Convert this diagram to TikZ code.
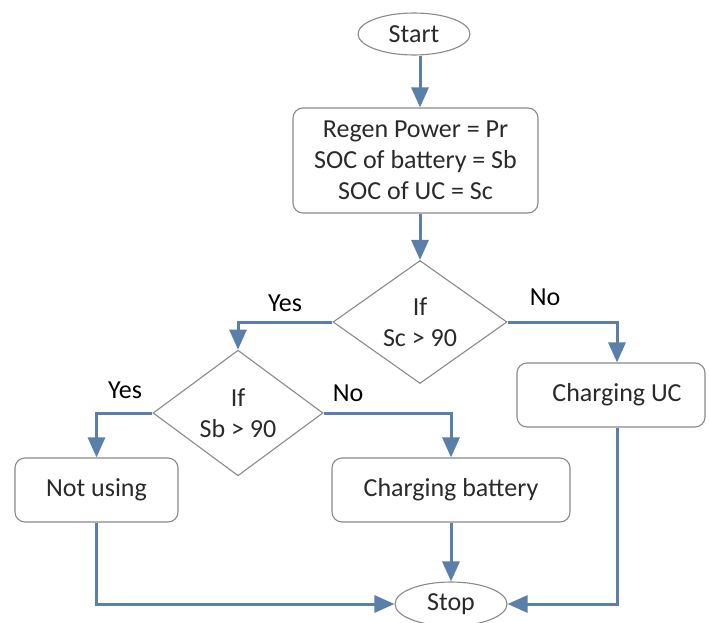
\documentclass[tikz,border=0pt]{standalone}
\usepackage{fontspec}
\setmainfont{Carlito}
\usetikzlibrary{shapes.geometric,arrows.meta}
\definecolor{flowblue}{HTML}{5B7FAB}
\definecolor{edgegray}{HTML}{8A8A8A}
\definecolor{txt}{HTML}{2A2A2A}
\begin{document}
\begin{tikzpicture}[x=1pt,y=-1pt,
  every node/.style={font=\fontsize{26}{31}\selectfont, text=txt},
  terminal/.style={ellipse, draw=edgegray, line width=1.1pt, inner sep=0pt, fill=white},
  procbox/.style={rectangle, rounded corners=10pt, draw=edgegray, line width=1.1pt, inner sep=0pt, align=center, fill=white},
  decision/.style={diamond, draw=edgegray, line width=1.1pt, inner sep=0pt, align=center, fill=white},
  flow/.style={draw=flowblue, line width=3pt, -{Triangle[width=17pt,length=20pt]}},
  plain/.style={draw=flowblue, line width=3pt},
  lbl/.style={text=black}]
\useasboundingbox[fill=white] (0,0) rectangle (709,623);

\node[terminal, minimum width=112pt, minimum height=42pt] (start) at (414,34) {Start};
\node[procbox, minimum width=245pt, minimum height=105pt] (input) at (415.5,160.5)
  {Regen Power = Pr\\SOC of battery = Sb\\SOC of UC = Sc};
\node[decision, minimum width=174pt, minimum height=108pt] (d1) at (420,322) {If\\Sc > 90};
\node[decision, minimum width=170pt, minimum height=110pt] (d2) at (238,413) {If\\Sb > 90};
\node[procbox, minimum width=188pt, minimum height=64pt] (uc) at (611,395) {\hspace*{12pt}Charging UC};
\node[procbox, minimum width=163pt, minimum height=64pt] (notusing) at (96.5,490) {Not using};
\node[procbox, minimum width=238pt, minimum height=64pt] (batt) at (451,490) {Charging battery};
\node[terminal, minimum width=112pt, minimum height=44pt] (stop) at (451,604) {Stop};

\coordinate (ucin) at ([xshift=6pt]uc.north);
\coordinate (ucout) at ([xshift=6pt]uc.south);

\draw[flow] (start.south -| d1.north) -- (input.north -| d1.north);
\draw[flow] (input.south -| d1.north) -- (d1.north);
\draw[flow] (d1.west) -| (d2.north);
\draw[flow] (d1.east) -| (ucin);
\draw[flow] (d2.west) -| (notusing.north);
\draw[flow] (d2.east) -| (batt.north);
\draw[flow] (notusing.south) |- (stop.west);
\draw[flow] (batt.south) -- (stop.north);
\draw[flow] (ucout) |- (stop.east);

\node[lbl] (yes1) at (285,303) {Yes};
\node[lbl] (no1) at (545,297) {No};
\node[lbl] (yes2) at (125,390) {Yes};
\node[lbl] (no2) at (348,393) {No};
\end{tikzpicture}
\end{document}
